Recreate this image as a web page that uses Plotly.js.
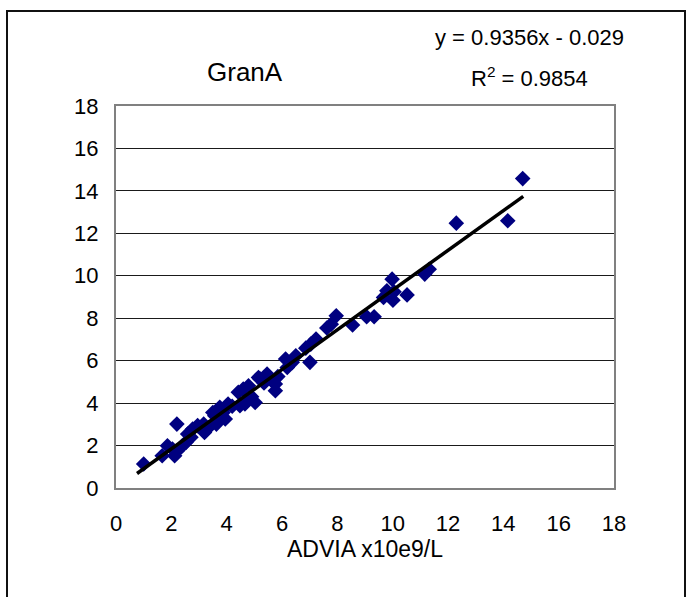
<!DOCTYPE html>
<html>
<head>
<meta charset="utf-8">
<script src="https://cdn.plot.ly/plotly-3.0.1.min.js"></script>
<style>
  html, body { margin: 0; padding: 0; background: #fff; }
  #wrap { position: relative; width: 694px; height: 597px; overflow: hidden; }
  #frame { position: absolute; left: 6px; top: 10px; width: 680px; height: 620px; border: 2px solid #111; box-sizing: border-box; pointer-events: none; }
  #chart { position: absolute; left: 0; top: 0; width: 694px; height: 597px; }
</style>
</head>
<body>
<div id="wrap">
  <div id="chart"></div>
  <div id="frame"></div>
</div>
<script>
// ADVIA values (x) and comparison method values (y), x10e9/L
const advia = [1.00, 1.67, 1.86, 2.04, 2.12, 2.20, 2.22, 2.40, 2.53, 2.59, 2.71, 2.77, 2.95,
  3.17, 3.20, 3.35, 3.50, 3.57, 3.63, 3.69, 3.75, 3.87, 3.95, 4.05, 4.20, 4.42, 4.48, 4.60, 4.66,
  4.79, 4.90, 5.03, 5.15, 5.21, 5.35, 5.46, 5.64, 5.76, 5.76, 5.85, 6.13, 6.19, 6.37, 6.50, 6.86,
  7.01, 7.04, 7.23, 7.62, 7.78, 7.96, 8.55, 9.06, 9.33, 9.67, 9.79, 9.98, 10.01, 10.05, 10.52,
  11.16, 11.32, 12.30, 14.16, 14.70];
const granA = [1.13, 1.52, 1.99, 1.84, 1.52, 3.01, 1.76, 1.99, 2.15, 2.54, 2.39, 2.78, 2.94,
  3.01, 2.62, 2.85, 3.56, 3.41, 3.01, 3.64, 3.80, 3.56, 3.25, 3.96, 3.85, 4.51, 3.88, 4.66, 3.96,
  4.82, 4.30, 4.03, 5.21, 5.13, 4.95, 5.37, 5.05, 4.90, 4.58, 5.25, 6.08, 5.68, 5.92, 6.23, 6.59,
  5.92, 6.78, 7.02, 7.54, 7.72, 8.12, 7.68, 8.07, 8.07, 8.98, 9.29, 9.84, 8.85, 9.25, 9.10,
  10.08, 10.31, 12.48, 12.59, 14.58];
const slope = 0.9356;
const intercept = -0.029;
const rSquared = 0.9854;
const trendRange = [0.76, 14.72];
const tickValues = [0, 2, 4, 6, 8, 10, 12, 14, 16, 18];
const titleText = 'GranA';
const xTitleText = 'ADVIA x10e9/L';

const trendX = trendRange.slice();
const trendY = trendX.map(v => slope * v + intercept);

const FONT = 'Liberation Sans, Arial, sans-serif';

const traces = [
  {
    x: advia, y: granA, type: 'scatter', mode: 'markers',
    marker: { symbol: 'diamond', size: 12, color: '#000080', line: { width: 0 } },
    hoverinfo: 'skip', showlegend: false
  },
  {
    x: trendX, y: trendY, type: 'scatter', mode: 'lines',
    line: { color: '#000000', width: 3.5 },
    hoverinfo: 'skip', showlegend: false
  }
];

const tickShape = (opts) => Object.assign({ type: 'line', line: { color: '#333', width: 2 }, layer: 'above' }, opts);

const layout = {
  width: 694, height: 597,
  margin: { l: 116, r: 80, t: 106, b: 109 },
  paper_bgcolor: 'rgba(0,0,0,0)', plot_bgcolor: '#ffffff',
  font: { family: FONT, color: '#000', size: 22 },
  showlegend: false,
  xaxis: {
    range: [0, 18], tickvals: tickValues, ticktext: tickValues.map(String),
    showgrid: false, zeroline: false,
    showline: true, linecolor: '#808080', linewidth: 2, mirror: true,
    ticks: '', ticklabelstandoff: 15,
    tickfont: { family: FONT, size: 22, color: '#000' },
    title: { text: xTitleText, font: { family: FONT, size: 23, color: '#000' }, standoff: 3 }
  },
  yaxis: {
    range: [0, 18], tickvals: tickValues, ticktext: tickValues.map(String),
    showgrid: true, gridcolor: '#1a1a1a', gridwidth: 1,
    zeroline: true, zerolinecolor: '#222', zerolinewidth: 2,
    showline: true, linecolor: '#808080', linewidth: 2, mirror: true,
    ticks: '', ticklabelstandoff: 11,
    tickfont: { family: FONT, size: 22, color: '#000' }
  },
  shapes: [
    tickShape({ xref: 'x', yref: 'y', xsizemode: 'pixel', xanchor: 0, x0: -9, x1: 0, y0: 0, y1: 0 }),
    tickShape({ xref: 'x', yref: 'y', ysizemode: 'pixel', yanchor: 0, x0: 0, x1: 0, y0: -6, y1: 0, line: { color: '#808080', width: 2 } }),
    tickShape({ xref: 'x', yref: 'y', ysizemode: 'pixel', yanchor: 0, x0: 18, x1: 18, y0: -6, y1: 0, line: { color: '#808080', width: 2 } })
  ],
  annotations: [
    { xref: 'paper', yref: 'paper', x: 0.26, y: 1.09, xanchor: 'center', yanchor: 'middle',
      text: titleText, showarrow: false, font: { family: FONT, size: 26, color: '#000' } },
    { xref: 'paper', yref: 'paper', x: 0.83, y: 1.18, xanchor: 'center', yanchor: 'middle',
      text: 'y = ' + slope.toFixed(4) + 'x - ' + Math.abs(intercept).toFixed(3),
      showarrow: false, font: { family: FONT, size: 22, color: '#000' } },
    { xref: 'paper', yref: 'paper', x: 0.83, y: 1.075, xanchor: 'center', yanchor: 'middle',
      text: 'R<sup>2</sup> = ' + rSquared.toFixed(4),
      showarrow: false, font: { family: FONT, size: 22, color: '#000' } }
  ]
};

Plotly.newPlot('chart', traces, layout, { staticPlot: true, displayModeBar: false });
</script>
</body>
</html>
